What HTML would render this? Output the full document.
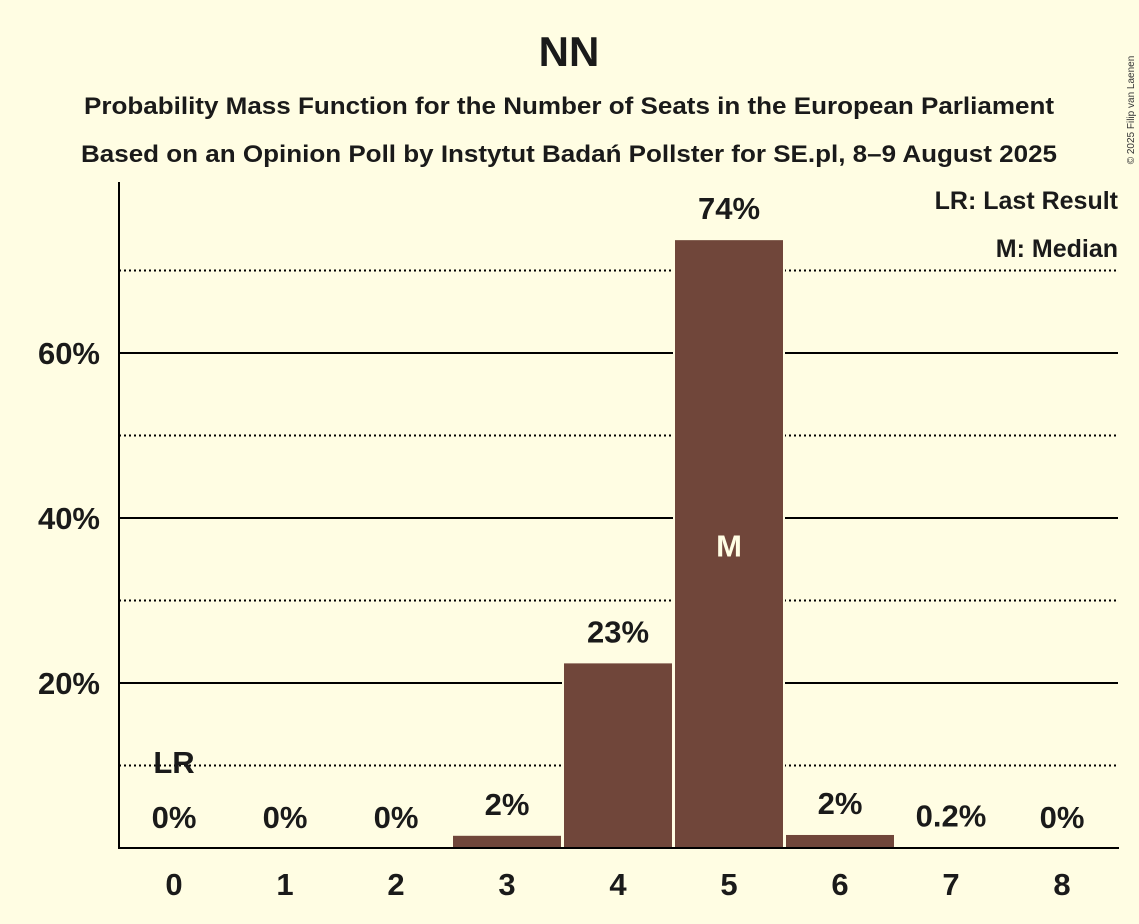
<!DOCTYPE html>
<html><head><meta charset="utf-8"><style>
body{margin:0;background:#FFFDE3;}
svg{display:block;font-family:"Liberation Sans",sans-serif;font-weight:bold;}
</style></head><body>
<svg id="c" width="1139" height="924">
<rect width="1139" height="924" fill="#FFFDE3"/>
<text x="569" y="66" font-size="42" text-anchor="middle" fill="#1a1a1a">NN</text>
<text x="569" y="114" font-size="24" text-anchor="middle" fill="#1a1a1a" textLength="970" lengthAdjust="spacingAndGlyphs">Probability Mass Function for the Number of Seats in the European Parliament</text>
<text x="569" y="162" font-size="24" text-anchor="middle" fill="#1a1a1a" textLength="976" lengthAdjust="spacingAndGlyphs">Based on an Opinion Poll by Instytut Badań Pollster for SE.pl, 8–9 August 2025</text>
<text x="1134" y="110" font-size="10" font-weight="normal" fill="#333" transform="rotate(-90 1134 110)" text-anchor="middle">© 2025 Filip van Laenen</text>
<g id="grid"></g><g id="bars"></g><g id="labels"></g>
<line x1="119" y1="182" x2="119" y2="849" stroke="#000" stroke-width="2"/>
<line x1="118" y1="848" x2="1119" y2="848" stroke="#000" stroke-width="2"/>
<text x="1118" y="209" font-size="25" text-anchor="end" fill="#1a1a1a">LR: Last Result</text>
<text x="1118" y="257" font-size="25" text-anchor="end" fill="#1a1a1a">M: Median</text>
</svg>
<script>
const categories=[0,1,2,3,4,5,6,7,8];
const values=[0,0,0,1.6,22.5,73.8,1.7,0.2,0];
const valueLabels=["0%","0%","0%","2%","23%","74%","2%","0.2%","0%"];
const yTicks=[20,40,60];
const yMinor=[10,30,50,70];
const medianIndex=5, lastResultIndex=0;
const NS="http://www.w3.org/2000/svg";
const y=v=>848-v*8.25;
const x=c=>174+c*111;
function mk(tag,attrs,parent){const e=document.createElementNS(NS,tag);for(const k in attrs)e.setAttribute(k,attrs[k]);document.getElementById(parent).appendChild(e);return e;}
yMinor.forEach(v=>{const l=mk('line',{x1:119,x2:1118,y1:y(v),y2:y(v),stroke:'#000','stroke-width':2,'stroke-dasharray':'2,3'},'grid');

});
yTicks.forEach(v=>{const l=mk('line',{x1:119,x2:1118,y1:y(v),y2:y(v),stroke:'#000','stroke-width':2},'grid');


const t=mk('text',{x:100,y:y(v)+11,'font-size':31,'text-anchor':'end',fill:'#1a1a1a'},'labels');t.textContent=v+'%';

});
categories.forEach((c,i)=>{
 if(values[i]>0){const r=mk('rect',{x:x(c)-55,y:y(values[i]),width:110,height:848-y(values[i]),fill:'#70463A',stroke:'#FFFDE3','stroke-width':2},'bars');
 
 }
 const t=mk('text',{x:x(c),y:y(values[i])-20,'font-size':31,'text-anchor':'middle',fill:'#1a1a1a'},'labels');t.textContent=valueLabels[i];
 
 
 const xt=mk('text',{x:x(c),y:895,'font-size':31,'text-anchor':'middle',fill:'#1a1a1a'},'labels');xt.textContent=c;
 
 
});
const m=mk('text',{x:x(categories[medianIndex]),y:(y(values[medianIndex])+848)/2+13,'font-size':31,'text-anchor':'middle',fill:'#FFFDE3'},'labels');m.textContent='M';


const lr=mk('text',{x:x(categories[lastResultIndex]),y:773,'font-size':31,'text-anchor':'middle',fill:'#1a1a1a'},'labels');lr.textContent='LR';


</script>
</body></html>
